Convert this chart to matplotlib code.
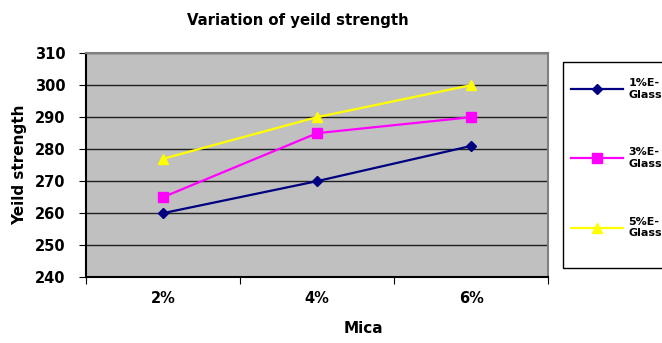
import matplotlib.pyplot as plt
from matplotlib.patches import Rectangle
import numpy as np

plt.rcParams['font.family'] = ['DejaVu Sans']
plt.rcParams['font.weight'] = 'bold'

mica = ["2%", "4%", "6%"]
glass_1 = [260, 270, 281]
glass_3 = [265, 285, 290]
glass_5 = [277, 290, 300]
labels = ["1%E-\nGlass", "3%E-\nGlass", "5%E-\nGlass"]

fig = plt.figure(figsize=(6.62, 3.43), dpi=100)
ax = fig.add_axes([0.130, 0.192, 0.698, 0.653])
ax.set_facecolor('#c0c0c0')

x = np.arange(len(mica))
ax.plot(x, glass_1, color='#000080', marker='D', markersize=5.5, lw=1.6, label=labels[0])
ax.plot(x, glass_3, color='#ff00ff', marker='s', markersize=7, lw=1.6, label=labels[1])
ax.plot(x, glass_5, color='#ffff00', marker='^', markersize=7.5, lw=1.6, label=labels[2])

ax.set_xlim(-0.5, 2.5)
ax.set_ylim(240, 310)
ax.set_yticks(np.arange(240, 311, 10))
ax.yaxis.grid(True, color='#202020', lw=1)
ax.set_axisbelow(True)

# category labels sit between the boundary ticks
ax.set_xticks(np.arange(-0.5, 2.6, 1))
ax.set_xticklabels([])
ax.set_xticks(x, minor=True)
ax.set_xticklabels(mica, minor=True, fontsize=10.5, fontweight='bold')
ax.tick_params(axis='x', which='minor', length=0, pad=10)
ax.tick_params(axis='x', which='major', length=5, direction='out')
ax.tick_params(axis='y', labelsize=10.5, length=5, direction='out', pad=10)
for lbl in ax.get_yticklabels():
    lbl.set_fontweight('bold')

for s in ax.spines.values():
    s.set_color('#808080')
    s.set_linewidth(1.5)
ax.spines['left'].set_color('black')
ax.spines['bottom'].set_color('black')

fig.text(0.45, 1 - 21 / 343, "Variation of yeild strength", fontsize=10.7,
         fontweight='bold', ha='center', va='center')
ax.set_xlabel("Mica", fontsize=11, fontweight='bold')
ax.xaxis.set_label_coords(0.60, -0.196)
ax.set_ylabel("Yeild strength", fontsize=11, fontweight='bold')
ax.yaxis.set_label_coords(-0.128, 0.5)

# legend box runs off the right edge, as in the original
fig.patches.append(Rectangle((563 / 662, 1 - 268 / 343), 0.3, 206 / 343,
                             transform=fig.transFigure, facecolor='white',
                             edgecolor='black', lw=1, zorder=0))
fig.legend(loc='upper left', bbox_to_anchor=(571 / 662, 1 - 78 / 343),
           borderaxespad=0, borderpad=0, frameon=False,
           prop={'size': 8, 'weight': 'bold'}, handlelength=4.7,
           labelspacing=4.3, handletextpad=0.45)

fig.savefig("out.png", dpi=100)
